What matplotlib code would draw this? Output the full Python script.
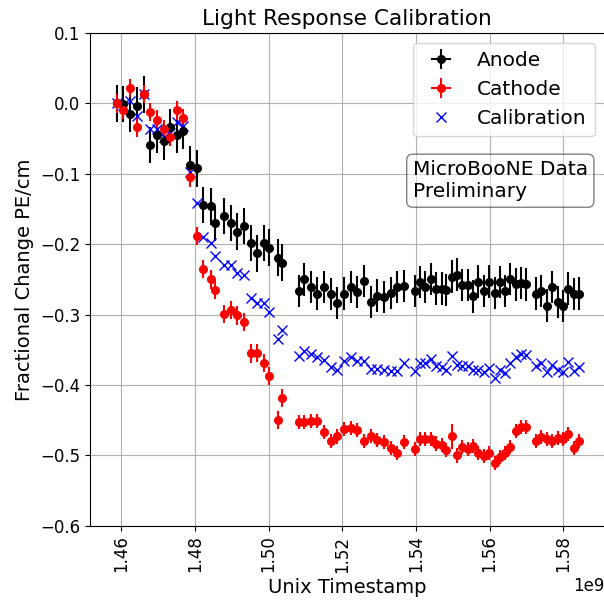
import numpy as np
import matplotlib
matplotlib.use("Agg")
import matplotlib.pyplot as plt

# Timestamps (units of 1e9 s), shared by all three series
t_e9 = [1.45878, 1.46057, 1.46250, 1.46430, 1.46610, 1.46790, 1.46970, 1.47150,
        1.47330, 1.47510, 1.47685, 1.47880, 1.48057, 1.48233, 1.48428, 1.48558,
        1.48789, 1.48971, 1.49150, 1.49332, 1.49513, 1.49693, 1.49874, 1.50018,
        1.50268, 1.50355,
        1.50832, 1.50960, 1.51141, 1.51320, 1.51502, 1.51684, 1.51863, 1.52045,
        1.52227, 1.52406, 1.52588, 1.52769, 1.52948, 1.53130, 1.53312, 1.53491,
        1.53673, 1.53971, 1.54107, 1.54243, 1.54397, 1.54541, 1.54696, 1.54831,
        1.54967, 1.55119, 1.55265, 1.55417, 1.55553, 1.55689, 1.55843, 1.55987,
        1.56142, 1.56278, 1.56413, 1.56568, 1.56711, 1.56866, 1.56983, 1.57273,
        1.57409, 1.57561, 1.57707, 1.57859, 1.57995, 1.58130, 1.58285, 1.58429]

anode = [0.000, -0.001, -0.015, -0.003, 0.013, -0.059, -0.045, -0.054,
         -0.034, -0.045, -0.039, -0.087, -0.092, -0.144, -0.146, -0.170,
         -0.160, -0.170, -0.182, -0.174, -0.198, -0.213, -0.198, -0.205,
         -0.219, -0.226,
         -0.266, -0.250, -0.261, -0.270, -0.261, -0.271, -0.283, -0.270,
         -0.261, -0.268, -0.252, -0.282, -0.273, -0.275, -0.269, -0.261,
         -0.259, -0.266, -0.254, -0.261, -0.249, -0.263, -0.263, -0.265,
         -0.246, -0.243, -0.258, -0.258, -0.274, -0.253, -0.266, -0.253,
         -0.269, -0.254, -0.266, -0.249, -0.257, -0.255, -0.257, -0.270,
         -0.266, -0.287, -0.261, -0.282, -0.288, -0.263, -0.271, -0.270]

cathode = [0.000, -0.009, 0.022, -0.034, 0.013, -0.012, -0.023, -0.036,
           -0.047, -0.010, -0.021, -0.105, -0.188, -0.235, -0.250, -0.265,
           -0.299, -0.293, -0.301, -0.310, -0.355, -0.354, -0.369, -0.387,
           -0.450, -0.418,
           -0.453, -0.453, -0.451, -0.451, -0.467, -0.480, -0.473, -0.462,
           -0.461, -0.464, -0.480, -0.472, -0.478, -0.481, -0.490, -0.497,
           -0.481, -0.491, -0.477, -0.477, -0.477, -0.483, -0.485, -0.492,
           -0.473, -0.500, -0.488, -0.491, -0.487, -0.497, -0.501, -0.497,
           -0.511, -0.502, -0.497, -0.488, -0.465, -0.460, -0.459, -0.480,
           -0.474, -0.477, -0.480, -0.475, -0.476, -0.470, -0.490, -0.480]

calibration = [0.000, -0.002, 0.003, -0.018, 0.013, -0.036, -0.036, -0.047,
               -0.042, -0.027, -0.032, -0.098, -0.141, -0.189, -0.198, -0.216,
               -0.230, -0.230, -0.241, -0.243, -0.277, -0.283, -0.284, -0.296,
               -0.335, -0.322,
               -0.359, -0.351, -0.356, -0.360, -0.364, -0.375, -0.379, -0.366,
               -0.360, -0.366, -0.366, -0.377, -0.377, -0.378, -0.380, -0.380,
               -0.369, -0.380, -0.368, -0.369, -0.363, -0.373, -0.374, -0.379,
               -0.359, -0.371, -0.373, -0.373, -0.378, -0.378, -0.382, -0.376,
               -0.390, -0.378, -0.383, -0.368, -0.360, -0.356, -0.357, -0.373,
               -0.369, -0.381, -0.372, -0.378, -0.382, -0.367, -0.380, -0.375]

# error bars (estimated bar half-lengths)
anode_err = [0.026] * 26 + [0.023] * 48
cathode_err = [0.013] * 26 + [0.010] * 24 + [0.018] + [0.010] * 23

x = np.array(t_e9) * 1e9

plt.rcParams['font.size'] = 14
fig = plt.figure(figsize=(6.04, 6.01), dpi=100)
# right spine sits just past the figure edge, as in the reference
ax = fig.add_axes([0.149, 0.125, 0.8522, 0.820])
ax.spines['right'].set_visible(False)

h_an = ax.errorbar(x, anode, yerr=anode_err, xerr=np.zeros(len(x)), fmt='o',
                   color='k', ms=5.5, label='Anode')
h_ca = ax.errorbar(x, cathode, yerr=cathode_err, xerr=np.zeros(len(x)), fmt='o',
                   color='r', ms=5.5, label='Cathode')
h_cal, = ax.plot(x, calibration, 'bx', ms=7, label='Calibration')

ax.set_xlim(1.45154e9, 1.59126e9)
ax.set_ylim(-0.6, 0.1)
ax.grid(True)
ax.tick_params(axis='both', labelsize=12)
ax.tick_params(axis='x', labelrotation=90)
ax.xaxis.get_offset_text().set_fontsize(12)

ax.set_title('Light Response Calibration', fontsize=15.6)
ax.set_xlabel('Unix Timestamp')
ax.set_ylabel('Fractional Change PE/cm')
ax.legend(handles=[h_an, h_ca, h_cal], loc='upper right', fontsize=14.5)

props = dict(boxstyle='round', facecolor='white', alpha=0.5)
ax.text(0.627, 0.742, 'MicroBooNE Data\nPreliminary', transform=ax.transAxes,
        va='top', fontsize=14.5, bbox=props)

fig.savefig('out.png', dpi=100)
